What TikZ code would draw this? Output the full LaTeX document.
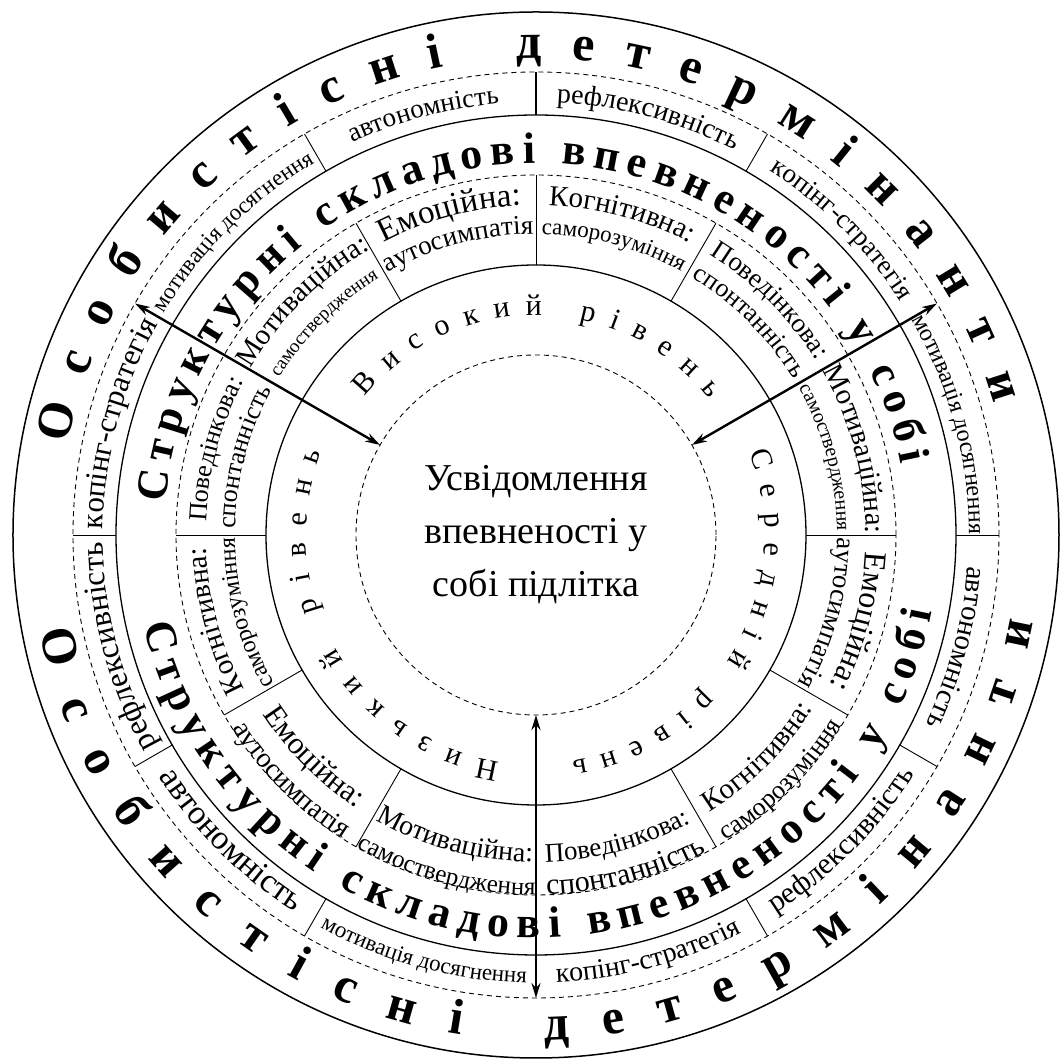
\documentclass[tikz,border=0pt]{standalone}
\usepackage{fontspec}
\setmainfont{Liberation Serif}
\usetikzlibrary{decorations.text,arrows.meta}
\definecolor{RingInk}{HTML}{000000}

\tikzset{
  ring/.style={line width=1.3pt},
  dashring/.style={line width=0.9pt,dash pattern=on 5pt off 4pt},
  divider/.style={line width=0.9pt},
  levelarrow/.style={line width=2.4pt,{Stealth[length=15pt,width=9pt]}-{Stealth[length=15pt,width=9pt]}},
  arctext/.style={decorate,decoration={text along path,text align={fit to path},text={#1}}},
  bendtext/.style={decorate,decoration={text along path,text align=center,text/.expanded={#1}}}
}

\begin{document}
\begin{tikzpicture}[draw=RingInk,text=RingInk]
  \useasboundingbox (-536pt,-524pt) rectangle (525pt,535pt);
  \coordinate (centre) at (0,0);

  \draw[line width=1.5pt] (centre) circle[radius=523pt];
  \draw[dashring] (centre) circle[radius=463pt];
  \draw[ring] (centre) circle[radius=420pt];
  \draw[dashring] (centre) circle[radius=360pt];
  \draw[ring] (centre) circle[radius=270pt];
  \draw[dashring] (centre) circle[radius=180pt];

  \foreach \a in {0,60,120,180,210,240,300,330}
    \draw[divider] (\a:420pt) -- (\a:463pt);
  \draw[line width=1.8pt] (90:420pt) -- (90:463pt);
  \foreach \a in {0,60,90,120,180,210,240,300,330}
    \draw[divider] (\a:270pt) -- (\a:360pt);

  \foreach \a in {30,150,270}{
    \coordinate (in\a) at (\a:180pt);
    \coordinate (out\a) at (\a:463pt);
    \draw[levelarrow] (in\a) -- (out\a);
  }

  \node[font=\fontsize{38}{53}\selectfont,align=center] (core) at (centre)
    {Усвідомлення\\впевненості у\\собі підлітка};

  % outer ring: personal determinants
  \path[arctext={|\fontsize{50}{50}\selectfont\bfseries|Особистісні детермінанти}]
    (169:477pt) arc[start angle=169,end angle=16,radius=477pt];
  \path[arctext={|\fontsize{50}{50}\selectfont\bfseries|Особистісні детермінанти}]
    (191:505pt) arc[start angle=191,end angle=350,radius=505pt];

  \path[arctext={|\fontsize{44}{44}\selectfont\bfseries|Структурні складові впевненості у собі}]
    (175:372pt) arc[start angle=175,end angle=11,radius=372pt];
  \path[arctext={|\fontsize{44}{44}\selectfont\bfseries|Структурні складові впевненості у собі}]
    (193:403pt) arc[start angle=193,end angle=349,radius=403pt];

  % levels
  \path[arctext={|\fontsize{30}{30}\selectfont|Високий рівень}]
    (141:220pt) arc[start angle=141,end angle=38,radius=220pt];
  \path[arctext={|\fontsize{30}{30}\selectfont|Середній рівень}]
    (21:229pt) arc[start angle=21,end angle=-81,radius=229pt];
  \path[arctext={|\fontsize{30}{30}\selectfont|Низький рівень}]
    (261:230pt) arc[start angle=261,end angle=159,radius=230pt];

  % determinant segments
  \foreach \a/\s/\t in {15/24/мотивація досягнення,45/27/копінг-стратегія,
      75/28/рефлексивність,105/27/автономність,135/23/мотивація досягнення,
      165/31/копінг-стратегія,195/32/рефлексивність,345/29/автономність}
    \path[bendtext={|\noexpand\fontsize{\s}{\s}\noexpand\selectfont|\t}]
      ({\a+18}:433pt) arc[start angle=\a+18,end angle=\a-18,radius=433pt];
  \foreach \a/\s/\t in {225/34/автономність,255/23/мотивація досягнення,
      285/28/копінг-стратегія,315/30/рефлексивність}
    \path[bendtext={|\noexpand\fontsize{\s}{\s}\noexpand\selectfont|\t}]
      ({\a-18}:448pt) arc[start angle=\a-18,end angle=\a+18,radius=448pt];

  % component segments
  \foreach \a/\r/\p/\s/\q in {15/29/Мотиваційна:/20/самоствердження,
      45/27/Поведінкова:/26/спонтанність,75/29/Когнітивна:/23/саморозуміння,
      105/33/Емоційна:/27/аутосимпатія,135/29/Мотиваційна:/19/самоствердження,
      165/26/Поведінкова:/26/спонтанність,195/29/Когнітивна:/24/саморозуміння,
      345/32/Емоційна:/27/аутосимпатія}{
    \path[bendtext={|\noexpand\fontsize{\r}{\r}\noexpand\selectfont|\p}]
      ({\a+18}:330pt) arc[start angle=\a+18,end angle=\a-18,radius=330pt];
    \path[bendtext={|\noexpand\fontsize{\s}{\s}\noexpand\selectfont|\q}]
      ({\a+18}:301pt) arc[start angle=\a+18,end angle=\a-18,radius=301pt];
  }
  \foreach \a/\r/\p/\s/\q in {225/31/Емоційна:/28/аутосимпатія,
      255/28/Мотиваційна:/25/самоствердження,285/27/Поведінкова:/30/спонтанність,
      315/29/Когнітивна:/26/саморозуміння}{
    \path[bendtext={|\noexpand\fontsize{\r}{\r}\noexpand\selectfont|\p}]
      ({\a-18}:327pt) arc[start angle=\a-18,end angle=\a+18,radius=327pt];
    \path[bendtext={|\noexpand\fontsize{\s}{\s}\noexpand\selectfont|\q}]
      ({\a-18}:360pt) arc[start angle=\a-18,end angle=\a+18,radius=360pt];
  }
\end{tikzpicture}
\end{document}
